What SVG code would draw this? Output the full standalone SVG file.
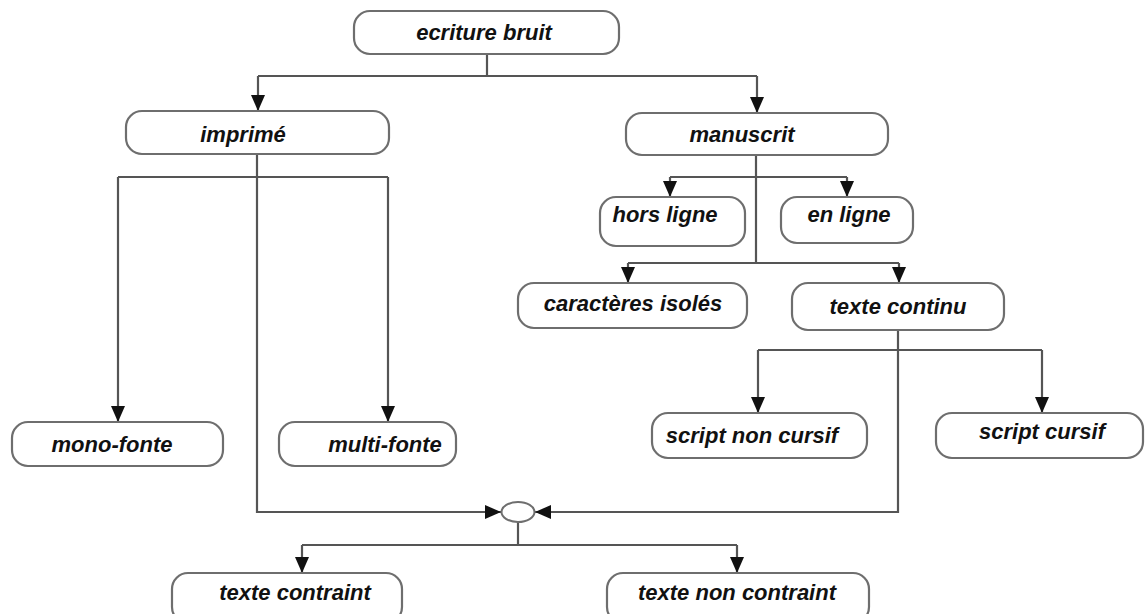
<svg xmlns="http://www.w3.org/2000/svg" width="1145" height="614" viewBox="0 0 1145 614">
  <style>
    .box { fill: #ffffff; stroke: #6e6e6e; stroke-width: 2.2; }
    .lbl { font-family: "Liberation Sans", Arial, sans-serif; font-size: 22px; font-weight: bold; font-style: italic; fill: #111111; text-anchor: middle; }
    .ln { fill: none; stroke: #555555; stroke-width: 2.2; }
    .arr { marker-end: url(#head); }
  </style>
  <defs>
    <marker id="head" markerUnits="userSpaceOnUse" markerWidth="16" markerHeight="14" refX="16" refY="7" orient="auto">
      <path d="M0,0 L16,7 L0,14 z" fill="#111111"/>
    </marker>
  </defs>
  <rect width="1145" height="614" fill="#ffffff"/>

  <g id="connectors">
    <!-- root split -->
    <path class="ln" d="M487,54 V76"/>
    <path class="ln" d="M258,76 H757"/>
    <path class="ln arr" d="M258,76 V111"/>
    <path class="ln arr" d="M757,76 V113"/>
    <!-- imprimé branches -->
    <path class="ln" d="M118,177 H388"/>
    <path class="ln arr" d="M118,177 V422"/>
    <path class="ln arr" d="M388,177 V422"/>
    <path class="ln arr" d="M257,154 V512 H501"/>
    <!-- manuscrit branches -->
    <path class="ln" d="M756,155 V263"/>
    <path class="ln" d="M670,177 H847"/>
    <path class="ln arr" d="M670,177 V197"/>
    <path class="ln arr" d="M847,177 V197"/>
    <path class="ln" d="M628,263 H899"/>
    <path class="ln arr" d="M628,263 V283"/>
    <path class="ln arr" d="M899,263 V283"/>
    <!-- texte continu branches -->
    <path class="ln" d="M758,350 H1042"/>
    <path class="ln arr" d="M758,350 V413"/>
    <path class="ln arr" d="M1042,350 V413"/>
    <path class="ln arr" d="M898,330 V512 H535"/>
    <!-- junction outputs -->
    <path class="ln" d="M518,522 V545"/>
    <path class="ln" d="M302,545 H737"/>
    <path class="ln arr" d="M302,545 V573"/>
    <path class="ln arr" d="M737,545 V573"/>
  </g>

  <g id="junction">
    <ellipse cx="518" cy="512" rx="16.5" ry="10" fill="#ffffff" stroke="#6e6e6e" stroke-width="2"/>
  </g>

  <g id="ecriture-bruit">
    <rect class="box" x="354" y="11" width="265" height="43" rx="16" ry="16"/>
    <text class="lbl" x="484" y="40">ecriture bruit</text>
  </g>
  <g id="imprime">
    <rect class="box" x="126" y="111" width="263" height="43" rx="16" ry="16"/>
    <text class="lbl" x="243" y="142">imprimé</text>
  </g>
  <g id="manuscrit">
    <rect class="box" x="626" y="113" width="262" height="42" rx="16" ry="16"/>
    <text class="lbl" x="742" y="142">manuscrit</text>
  </g>
  <g id="hors-ligne">
    <rect class="box" x="600" y="197" width="145" height="49" rx="16" ry="16"/>
    <text class="lbl" x="665" y="222">hors ligne</text>
  </g>
  <g id="en-ligne">
    <rect class="box" x="781" y="197" width="132" height="46" rx="16" ry="16"/>
    <text class="lbl" x="849" y="222">en ligne</text>
  </g>
  <g id="caracteres-isoles">
    <rect class="box" x="518" y="283" width="229" height="45" rx="16" ry="16"/>
    <text class="lbl" x="633" y="311">caractères isolés</text>
  </g>
  <g id="texte-continu">
    <rect class="box" x="792" y="283" width="212" height="47" rx="16" ry="16"/>
    <text class="lbl" x="898" y="314">texte continu</text>
  </g>
  <g id="mono-fonte">
    <rect class="box" x="12" y="422" width="211" height="44" rx="16" ry="16"/>
    <text class="lbl" x="112" y="452">mono-fonte</text>
  </g>
  <g id="multi-fonte">
    <rect class="box" x="279" y="422" width="177" height="44" rx="16" ry="16"/>
    <text class="lbl" x="385" y="452">multi-fonte</text>
  </g>
  <g id="script-non-cursif">
    <rect class="box" x="652" y="413" width="215" height="45" rx="16" ry="16"/>
    <text class="lbl" x="752" y="443">script non cursif</text>
  </g>
  <g id="script-cursif">
    <rect class="box" x="936" y="413" width="207" height="45" rx="16" ry="16"/>
    <text class="lbl" x="1042" y="439">script cursif</text>
  </g>
  <g id="texte-contraint">
    <rect class="box" x="172" y="573" width="230" height="50" rx="16" ry="16"/>
    <text class="lbl" x="295" y="600">texte contraint</text>
  </g>
  <g id="texte-non-contraint">
    <rect class="box" x="607" y="573" width="262" height="50" rx="16" ry="16"/>
    <text class="lbl" x="737" y="600">texte non contraint</text>
  </g>
</svg>
